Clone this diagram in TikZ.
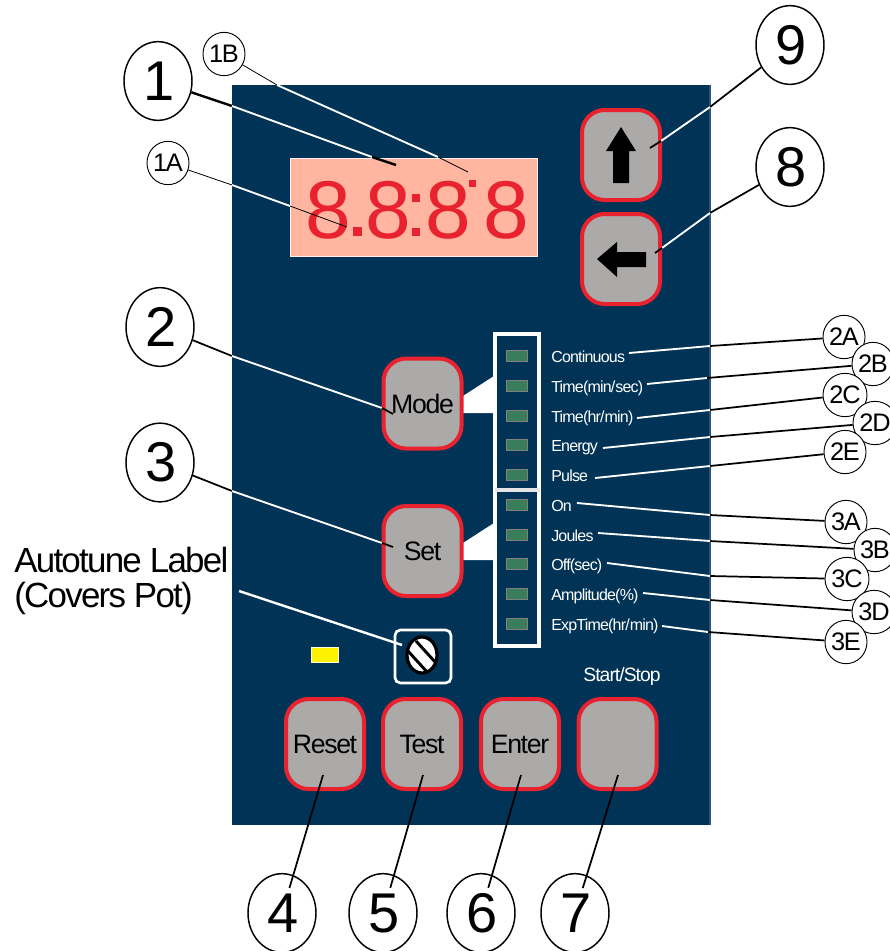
\documentclass[tikz,border=0pt]{standalone}
\usepackage{fontspec}
\setmainfont{Liberation Sans}
\newfontfamily\tightsf[LetterSpace=-5]{Liberation Sans}
\usetikzlibrary{positioning,shapes.geometric}
\definecolor{panelblue}{HTML}{003355}
\definecolor{paneledge}{HTML}{2F5478}
\definecolor{keygrey}{HTML}{ACA9A9}
\definecolor{keyred}{HTML}{E8222F}
\definecolor{lcdbg}{HTML}{FFB5A0}
\definecolor{ledgreen}{HTML}{3A7D5A}
\newcommand{\bigdigit}[1]{\raisebox{-1.5pt}{\hspace{1.5pt}#1}}
\tikzset{
  keybtn/.style={draw=keyred, fill=keygrey, line width=3pt, rounded corners=17pt, inner sep=0pt,
                 minimum width=58.5pt, minimum height=67.5pt, font=\tightsf\fontsize{20}{24}\selectfont},
  bigtag/.style={ellipse, draw, fill=white, line width=1.1pt, inner sep=0pt, minimum width=51pt, minimum height=59pt,
                 font=\fontsize{42}{46}\selectfont},
  smalltag/.style={ellipse, draw, fill=white, line width=0.7pt, inner sep=0pt, minimum width=28.5pt, minimum height=32.5pt,
                 font=\tightsf\fontsize{19}{21}\selectfont},
  ledlabel/.style={anchor=base west, inner sep=0pt, text=white, font=\tightsf\fontsize{12}{14}\selectfont},
  led/.style={draw=gray, fill=ledgreen, line width=0.7pt, inner sep=0pt, minimum width=16pt, minimum height=8pt},
  lcddigit/.style={anchor=base, inner sep=0pt, text=keyred, font=\fontsize{61.5}{64}\selectfont},
  blackline/.style={black, line width=1.3pt},
  whiteline/.style={white, line width=1.4pt},
}
\begin{document}
\begin{tikzpicture}[x=0.75pt, y=-0.75pt]
  \useasboundingbox (0,0) rectangle (890,951);
  \fill[panelblue] (232,85) rectangle (710,825);
  \draw[paneledge, line width=1pt] (710,85) -- (710,825);

  \fill[lcdbg, draw=white!80!lcdbg, line width=0.6pt] (290,158) rectangle (537,256);
  \foreach \n/\x in {a/328, b/388, c/448, d/506}
    \node[lcddigit] (digit\n) at (\x,238) {8};
  \foreach \x/\y/\s in {357/231/4.5, 416/198/4, 416/232/4, 472/183/3.5}
    \fill[keyred] (\x-\s,\y-\s) rectangle (\x+\s,\y+\s);

  \fill[white] (463,396) -- (494,376) -- (494,413) -- (463,413) -- cycle;
  \fill[white] (463,543) -- (494,523) -- (494,560) -- (463,560) -- cycle;
  \draw[white, line width=3pt] (495,334) rectangle (539,646);
  \draw[white!90!black, line width=3.5pt] (495,490) -- (540,490);

  \node[keybtn] (up) at (621,155) {};
  \node[keybtn] (left) at (621,259) {};
  \node[keybtn] (mode) at (422.5,403.5) {Mode};
  \node[keybtn] (set) at (422.5,551) {Set};
  \node[keybtn] (reset) at (325,744) {Reset};
  \node[keybtn] (test) at (422,744) {Test};
  \node[keybtn] (enter) at (520,744) {Enter};
  \node[keybtn] (startstop) at (617.5,744) {};
  \node[ledlabel, anchor=base, font=\tightsf\fontsize{14.5}{16}\selectfont] (startlabel) at (622,681) {Start/Stop};
  \fill (621,127) -- (636,151) -- (629,151) -- (629,183) -- (613,183) -- (613,151) -- (606,151) -- cycle;
  \fill (597,259) -- (617,242) -- (617,252) -- (646,252) -- (646,267) -- (617,267) -- (617,277) -- cycle;

  \fill[yellow, draw=white!85!yellow, line width=0.5pt] (311,647) rectangle (338,662);
  \draw[white, line width=2pt, rounded corners=4pt] (395,630) rectangle (451,683);
  \begin{scope}
    \clip (422,655) ellipse (16 and 19);
    \fill[white] (405,635) rectangle (439,675);
    \draw[black, line width=2.2pt] (408,651) -- (428,673);
    \draw[black, line width=2.2pt] (416,641) -- (436,663);
  \end{scope}
  \draw[black, line width=2.4pt] (422,655) ellipse (15 and 18);

  \node[anchor=base west, inner sep=0pt, align=left, font=\tightsf\fontsize{26.2}{26}\selectfont] (autotune) at (14,607) {Autotune Label\\(Covers Pot)};

  \foreach \n/\x/\y in {1/158/81, 2/160/327, 3/160/462.5, 4/282/913, 5/383/913, 6/481/913, 7/575/913, 8/790/167, 9/790/45}
    \node[bigtag] (tag\n) at (\x,\y) {\bigdigit{\n}};
  \node[smalltag] (tag1A) at (168,163) {1A};
  \node[smalltag] (tag1B) at (224,54) {1B};

  \foreach \n/\t/\y/\cx/\cy/\mx/\my/\ex/\ey in {
      2A/Continuous/356/844/337/710/346/629/353,
      2B/Time(min\slash sec)/386/873/364/707/378/647/384,
      2C/Time(hr\slash min)/416/845/395/710/410/637/418,
      2D/Energy/445/875/423/710/437/603/448,
      2E/Pulse/475/845/452/710/466/595/478,
      3A/On/505/846/522/710/515/577/503,
      3B/Joules/535/875/550/710/541/598/533,
      3C/Off(sec)/564/847/579/710/576/607/563,
      3D/Amplitude(\%)/594/874/612/710/600/643/593,
      3E/ExpTime(hr\slash min)/624/846/642/708/632/662/626}
    { \node[led] (led\n) at (517,\y) {};
      \node[ledlabel] (label\n) at (551,\y+6) {\t};
      \node[smalltag] (tag\n) at (\cx,\cy) {\n};
      \coordinate (cross\n) at (\mx,\my);
      \coordinate (end\n) at (\ex,\ey);
      \draw[blackline] (tag\n) -- (cross\n);
      \draw[whiteline] (cross\n) -- (end\n); }

  \foreach \n/\w/\ax/\ay/\bx/\by/\ex/\ey in {
      1/1.8pt/232/106/372/157/396/165,
      2/1.3pt/232/356/382/408/393/414,
      3/1.3pt/232/491/382/543/393/547,
      8/1.3pt/710/213/662/248/655/253,
      9/1.3pt/710/107/661/141/650/148,
      1A/0.6pt/232/185/290/206/347/227,
      1B/0.6pt/277/85/438/157/468/172}
    { \coordinate (cross\n) at (\ax,\ay);
      \coordinate (edge\n) at (\bx,\by);
      \coordinate (end\n) at (\ex,\ey);
      \draw[black, line width=\w] (tag\n) -- (cross\n);
      \draw[whiteline] (cross\n) -- (edge\n);
      \draw[black, line width=\w] (edge\n) -- (end\n); }

  \foreach \n/\x in {4/323, 5/423, 6/521, 7/618}
    { \coordinate (end\n) at (\x,775);
      \draw[blackline, shorten <=-10pt] (tag\n) -- (end\n); }

  \coordinate (potfrom) at (239,591);
  \coordinate (potto) at (402,645);
  \draw[white, line width=1.8pt] (potfrom) -- (potto);
\end{tikzpicture}
\end{document}
